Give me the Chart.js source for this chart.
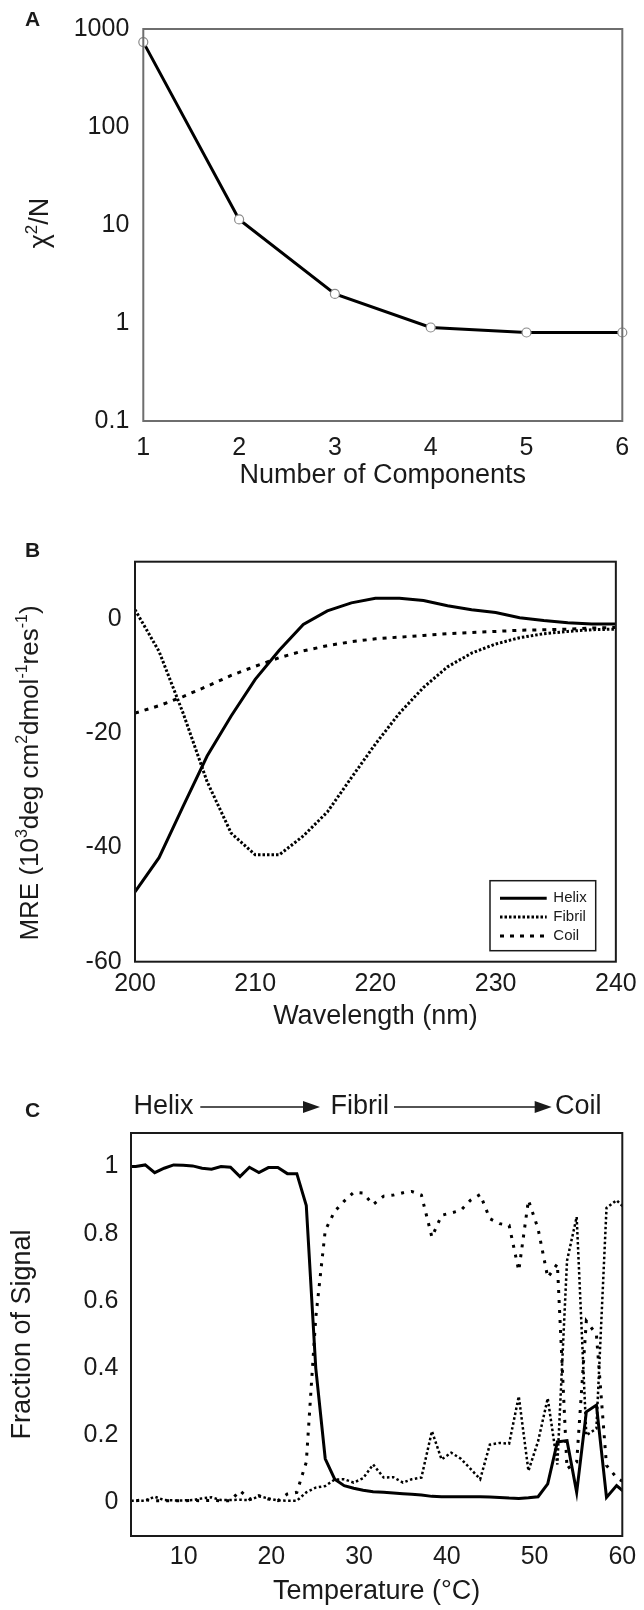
<!DOCTYPE html>
<html>
<head>
<meta charset="utf-8">
<script src="https://cdn.jsdelivr.net/npm/chart.js@4.4.1/dist/chart.umd.min.js"></script>
<style>
  html, body { margin: 0; padding: 0; background: #fff; }
  #hoja { position: relative; width: 644px; height: 1610px; }
  canvas { position: absolute; left: 0; }
</style>
</head>
<body>
<div id="hoja">
  <canvas id="panelA" width="644" height="500" style="top:0px"></canvas>
  <canvas id="panelB" width="644" height="540" style="top:500px"></canvas>
  <canvas id="panelC" width="644" height="570" style="top:1040px"></canvas>
</div>
<script>
// --- datos panel A ---
const componentes = [1, 2, 3, 4, 5, 6];
const chi2N = [735, 11.4, 1.98, 0.9, 0.8, 0.8];
const ticksA = [0.1, 1, 10, 100, 1000];

// --- datos panel B ---
const longitudOnda = [200, 202, 204, 206, 208, 210, 212, 214, 216, 218, 220, 222, 224, 226, 228, 230, 232, 234, 236, 238, 240];
const mreHelix = [-47.8, -41.8, -32.8, -24, -17, -10.6, -5.5, -1, 1.4, 2.8, 3.6, 3.6, 3.2, 2.3, 1.6, 1.1, 0.2, -0.3, -0.7, -0.9, -0.9];
const mreFibril = [1.6, -5.7, -16.5, -28.5, -37.5, -41.3, -41.3, -38, -33.8, -27.8, -21.9, -16.5, -12, -8.4, -6, -4.4, -3.3, -2.6, -2.2, -1.9, -1.8];
const mreCoil = [-16.5, -15.2, -13.6, -11.8, -9.9, -8.3, -6.8, -5.6, -4.7, -4.0, -3.5, -3.2, -2.9, -2.6, -2.4, -2.2, -2.0, -1.9, -1.8, -1.6, -1.5];
const ticksXB = [200, 210, 220, 230, 240];
const ticksYB = [-60, -40, -20, 0];

const temperatura = [3.46, 4.54, 5.62, 6.7, 7.78, 8.86, 9.94, 11.02, 12.1, 13.18,
  14.26, 15.34, 16.42, 17.5, 18.58, 19.66, 20.74, 21.82, 22.9, 23.98,
  25.06, 26.14, 27.22, 28.3, 29.38, 30.46, 31.6, 32.8, 33.9, 35.0,
  36.0, 37.1, 38.3, 39.4, 40.5, 41.6, 42.7, 43.8, 44.9, 46.0,
  47.1, 48.2, 49.3, 50.4, 51.5, 52.6, 53.7, 54.8, 55.9, 57.05,
  58.2, 59.35, 60.5];
const fracHelix = [1.0, 1.0, 1.005, 0.982, 0.995, 1.005, 1.004, 1.002, 0.995, 0.992,
  1.0, 0.998, 0.97, 0.998, 0.982, 0.997, 0.997, 0.979, 0.979, 0.884,
  0.40, 0.13, 0.069, 0.05, 0.042, 0.036, 0.032, 0.03, 0.028, 0.026,
  0.024, 0.022, 0.018, 0.017, 0.017, 0.017, 0.017, 0.017, 0.016, 0.015,
  0.013, 0.012, 0.014, 0.017, 0.055, 0.18, 0.184, 0.03, 0.27, 0.29,
  0.015, 0.05, 0.025];
const fracFibril = [0.005, 0.005, 0.008, 0.005, 0.005, 0.005, 0.005, 0.006, 0.005, 0.006,
  0.005, 0.005, 0.035, 0.01, 0.02, 0.01, 0.005, 0.025, 0.03, 0.12,
  0.55, 0.81, 0.867, 0.897, 0.923, 0.921, 0.887, 0.912, 0.915, 0.922,
  0.926, 0.915, 0.79, 0.855, 0.862, 0.87, 0.9, 0.917, 0.845, 0.83,
  0.825, 0.69, 0.9, 0.815, 0.67, 0.71, 0.1, 0.12, 0.54, 0.5,
  0.11, 0.074, 0.055];
const fracCoil = [0.005, 0.005, 0.005, 0.017, 0.007, 0.006, 0.006, 0.007, 0.012, 0.015,
  0.007, 0.007, 0.008, 0.007, 0.018, 0.012, 0.006, 0.005, 0.005, 0.03,
  0.044, 0.049, 0.068, 0.069, 0.059, 0.072, 0.113, 0.074, 0.075, 0.059,
  0.069, 0.074, 0.212, 0.128, 0.148, 0.13, 0.1, 0.069, 0.172, 0.177,
  0.175, 0.316, 0.094, 0.182, 0.31, 0.113, 0.72, 0.85, 0.2, 0.22,
  0.877, 0.9, 0.87];
const ticksXC = [10, 20, 30, 40, 50, 60];
const ticksYC = [0, 0.2, 0.4, 0.6, 0.8, 1];

const familia = "'Liberation Sans', Arial, Helvetica, sans-serif";
const tinta = '#1a1a1a';

function puntos(xs, ys) {
  return xs.map((x, i) => ({ x: x, y: ys[i] }));
}

// texto con superíndices, girado
function textoRico(ctx, partes, cx, cy, size, rot) {
  const fNormal = size + 'px ' + familia;
  const fSup = Math.round(size * 0.62) + 'px ' + familia;
  ctx.save();
  ctx.translate(cx, cy);
  ctx.rotate(rot);
  ctx.fillStyle = tinta;
  ctx.textAlign = 'left';
  ctx.textBaseline = 'alphabetic';
  let total = 0;
  const anchos = partes.map(p => {
    ctx.font = p.sup ? fSup : fNormal;
    const w = ctx.measureText(p.t).width;
    total += w;
    return w;
  });
  let x = -total / 2;
  partes.forEach((p, i) => {
    ctx.font = p.sup ? fSup : fNormal;
    ctx.fillText(p.t, x, p.sup ? size * 0.35 - size * 0.42 : size * 0.35);
    x += anchos[i];
  });
  ctx.restore();
}

// --- plugins ---
const marco = {
  id: 'marco',
  afterDraw(chart, args, opts) {
    const { ctx, chartArea: a } = chart;
    ctx.save();
    ctx.strokeStyle = opts.color || tinta;
    ctx.lineWidth = opts.width || 2;
    ctx.strokeRect(a.left, a.top, a.right - a.left, a.bottom - a.top);
    ctx.restore();
  }
};

const textos = {
  id: 'textos',
  afterDraw(chart, args, opts) {
    const ctx = chart.ctx;
    (opts.items || []).forEach(it => {
      ctx.save();
      ctx.fillStyle = tinta;
      ctx.font = (it.bold ? 'bold ' : '') + it.size + 'px ' + familia;
      ctx.textAlign = it.align || 'center';
      ctx.textBaseline = 'middle';
      ctx.fillText(it.t, it.x, it.y);
      ctx.restore();
    });
    (opts.flechas || []).forEach(f => {
      ctx.save();
      ctx.strokeStyle = tinta;
      ctx.fillStyle = tinta;
      ctx.lineWidth = 1.5;
      ctx.beginPath();
      ctx.moveTo(f.x1, f.y);
      ctx.lineTo(f.x2 - 14, f.y);
      ctx.stroke();
      ctx.beginPath();
      ctx.moveTo(f.x2, f.y);
      ctx.lineTo(f.x2 - 17, f.y - 6);
      ctx.lineTo(f.x2 - 17, f.y + 6);
      ctx.closePath();
      ctx.fill();
      ctx.restore();
    });
    if (opts.tituloY) {
      const t = opts.tituloY;
      textoRico(ctx, t.partes, t.x, t.y, t.size, -Math.PI / 2);
    }
  }
};

const leyendaB = {
  id: 'leyendaB',
  afterDraw(chart, args, opts) {
    if (!opts.caja) return;
    const ctx = chart.ctx;
    const c = opts.caja;
    ctx.save();
    ctx.fillStyle = '#fff';
    ctx.fillRect(c.x, c.y, c.w, c.h);
    ctx.strokeStyle = tinta;
    ctx.lineWidth = 1.5;
    ctx.strokeRect(c.x, c.y, c.w, c.h);
    chart.data.datasets.forEach((ds, i) => {
      const y = c.y + 17.6 + i * 18.8;
      ctx.strokeStyle = ds.borderColor;
      ctx.lineWidth = ds.borderWidth;
      ctx.setLineDash(ds.borderDash || []);
      ctx.beginPath();
      ctx.moveTo(c.x + 10, y);
      ctx.lineTo(c.x + 56.7, y);
      ctx.stroke();
      ctx.setLineDash([]);
      ctx.fillStyle = tinta;
      ctx.font = '15px ' + familia;
      ctx.textAlign = 'left';
      ctx.textBaseline = 'middle';
      ctx.fillText(ds.label, c.x + 63.3, y);
    });
    ctx.restore();
  }
};

function ejeBase(extra) {
  return Object.assign({
    grid: { display: false, drawTicks: false },
    border: { display: false }
  }, extra);
}

function fuente(size) {
  return { size: size, family: familia };
}

// --- panel A ---
new Chart(document.getElementById('panelA'), {
  type: 'line',
  data: {
    datasets: [{
      label: 'chi2/N',
      data: puntos(componentes, chi2N),
      borderColor: '#000',
      borderWidth: 3,
      pointRadius: 4.5,
      pointBackgroundColor: '#fff',
      pointBorderColor: '#8a8a8a',
      pointBorderWidth: 1.2,
      tension: 0,
      clip: false
    }]
  },
  options: {
    responsive: false, animation: false, devicePixelRatio: 1,
    layout: { padding: { left: 0, top: 25, right: 21.7, bottom: 0 } },
    scales: {
      x: ejeBase({
        type: 'linear', min: 1, max: 6,
        afterFit: s => { s.height = 79; },
        afterBuildTicks: s => { s.ticks = componentes.map(v => ({ value: v })); },
        ticks: { padding: 12, color: tinta, font: fuente(25), maxRotation: 0 },
        title: { display: true, text: 'Number of Components', color: tinta, font: fuente(27), padding: { top: 0, bottom: 7.8 } }
      }),
      y: ejeBase({
        type: 'logarithmic', min: 0.1, max: 1000,
        afterFit: s => { s.width = 143.3; },
        afterBuildTicks: s => { s.ticks = ticksA.map(v => ({ value: v })); },
        ticks: { padding: 14, color: tinta, font: fuente(25), callback: v => String(v) }
      })
    },
    plugins: {
      legend: { display: false }, tooltip: { enabled: false },
      marco: { color: '#6e6e6e', width: 2 },
      textos: {
        items: [{ t: 'A', x: 32.5, y: 20, size: 21, bold: true }],
        tituloY: { partes: [{ t: 'χ' }, { t: '2', sup: true }, { t: '/N' }], x: 39, y: 223, size: 27 }
      }
    }
  },
  plugins: [marco, textos]
});

// --- panel B ---
new Chart(document.getElementById('panelB'), {
  type: 'line',
  data: {
    datasets: [
      { label: 'Helix', data: puntos(longitudOnda, mreHelix), borderColor: '#000', borderWidth: 3, pointRadius: 0, tension: 0 },
      { label: 'Fibril', data: puntos(longitudOnda, mreFibril), borderColor: '#000', borderWidth: 3, borderDash: [2.5, 2], pointRadius: 0, tension: 0 },
      { label: 'Coil', data: puntos(longitudOnda, mreCoil), borderColor: '#000', borderWidth: 3, borderDash: [4, 6], pointRadius: 0, tension: 0 }
    ]
  },
  options: {
    responsive: false, animation: false, devicePixelRatio: 1,
    layout: { padding: { left: 0, top: 61.7, right: 24, bottom: 0 } },
    scales: {
      x: ejeBase({
        type: 'linear', min: 200, max: 240,
        afterFit: s => { s.height = 78.3; },
        afterBuildTicks: s => { s.ticks = ticksXB.map(v => ({ value: v })); },
        ticks: { padding: 7.3, color: tinta, font: fuente(25), maxRotation: 0 },
        title: { display: true, text: 'Wavelength (nm)', color: tinta, font: fuente(27), padding: { top: 0, bottom: 6.8 } }
      }),
      y: ejeBase({
        type: 'linear', min: -60, max: 10,
        afterFit: s => { s.width = 135; },
        afterBuildTicks: s => { s.ticks = ticksYB.map(v => ({ value: v })); },
        ticks: { padding: 13.3, color: tinta, font: fuente(25) }
      })
    },
    plugins: {
      legend: { display: false }, tooltip: { enabled: false },
      marco: { color: tinta, width: 2 },
      leyendaB: { caja: { x: 490, y: 380.7, w: 105.7, h: 70 } },
      textos: {
        items: [{ t: 'B', x: 32.5, y: 51, size: 21, bold: true }],
        tituloY: {
          partes: [{ t: 'MRE (10' }, { t: '3', sup: true }, { t: 'deg cm' }, { t: '2', sup: true }, { t: 'dmol' }, { t: '-1', sup: true }, { t: 'res' }, { t: '-1', sup: true }, { t: ')' }],
          x: 29, y: 273, size: 26
        }
      }
    }
  },
  plugins: [marco, leyendaB, textos]
});

// --- panel C ---
new Chart(document.getElementById('panelC'), {
  type: 'line',
  data: {
    datasets: [
      { label: 'Helix', data: puntos(temperatura, fracHelix), borderColor: '#000', borderWidth: 3, pointRadius: 0, tension: 0 },
      { label: 'Fibril', data: puntos(temperatura, fracFibril), borderColor: '#000', borderWidth: 3, borderDash: [3, 7], pointRadius: 0, tension: 0 },
      { label: 'Coil', data: puntos(temperatura, fracCoil), borderColor: '#000', borderWidth: 2.5, borderDash: [2.5, 2.5], pointRadius: 0, tension: 0 }
    ]
  },
  options: {
    responsive: false, animation: false, devicePixelRatio: 1,
    layout: { padding: { left: 0, top: 93, right: 21.7, bottom: 0 } },
    scales: {
      x: ejeBase({
        type: 'linear', min: 4, max: 60,
        afterFit: s => { s.height = 74; },
        afterBuildTicks: s => { s.ticks = ticksXC.map(v => ({ value: v })); },
        ticks: { padding: 6, color: tinta, font: fuente(25), maxRotation: 0 },
        title: { display: true, text: 'Temperature (°C)', color: tinta, font: fuente(27), padding: { top: 0, bottom: 1.8 } }
      }),
      y: ejeBase({
        type: 'linear', min: -0.1, max: 1.1,
        afterFit: s => { s.width = 131; },
        afterBuildTicks: s => { s.ticks = ticksYC.map(v => ({ value: v })); },
        ticks: { padding: 12.7, color: tinta, font: fuente(25), callback: v => String(v) },
        title: { display: true, text: 'Fraction of Signal', color: tinta, font: fuente(27), padding: { top: 6.8, bottom: 0 } }
      })
    },
    plugins: {
      legend: { display: false }, tooltip: { enabled: false },
      marco: { color: tinta, width: 2 },
      textos: {
        items: [
          { t: 'C', x: 32.5, y: 71.5, size: 21, bold: true },
          { t: 'Helix', x: 133.4, y: 67, size: 27, align: 'left' },
          { t: 'Fibril', x: 330.5, y: 67, size: 27, align: 'left' },
          { t: 'Coil', x: 555, y: 67, size: 27, align: 'left' }
        ],
        flechas: [
          { x1: 200.3, x2: 320, y: 67 },
          { x1: 394, x2: 551.7, y: 67 }
        ]
      }
    }
  },
  plugins: [marco, textos]
});
</script>
</body>
</html>
